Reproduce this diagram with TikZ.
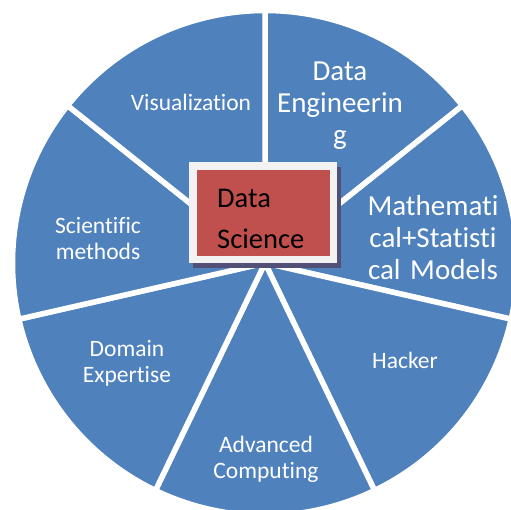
\documentclass[tikz,border=0pt]{standalone}
\usepackage{fontspec}
\setmainfont{Carlito}[Ligatures=NoCommon]

\definecolor{wedgeBlue}{RGB}{79,129,189}
\definecolor{coreRed}{RGB}{192,80,77}
\definecolor{coreFrame}{RGB}{242,242,242}
\definecolor{coreShadow}{RGB}{82,80,118}

\begin{document}
\begin{tikzpicture}[x=1pt, y=1pt,
    wedge/.style={fill=wedgeBlue, draw=white, line width=5.5pt},
    small/.style={text=white, font=\fontsize{23.5}{26}\selectfont, align=center,
    text width=160pt, inner sep=0, anchor=base},
    big/.style={small, font=\fontsize{29}{32}\selectfont}]

    \useasboundingbox (0, 0) rectangle (511, -509);
    \coordinate (O) at (265, -263);

    % Wedges
    \foreach \k in {0, ..., 6}
        \filldraw[wedge] (O) -- ++({90 - 51.4286*\k}:252.5)
        arc[start angle={90 - 51.4286*\k}, end angle={90 - 51.4286*(\k+1)},
        radius=252.5] -- cycle;

    % Labels
    \node[big] (DE) at (340, -80) {Data\\Engineerin\\g};
    \node[big] (MS) at (433, -215) {Mathemati\\cal+Statisti\\cal Models};
    \node[small] (HK) at (405, -368) {Hacker};
    \node[small] (AC) at (266, -452) {Advanced\\Computing};
    \node[small] (DX) at (127, -356) {Domain\\Expertise};
    \node[small] (SM) at (98, -233) {Scientific\\methods};
    \node[small] (VIS) at (191, -110) {Visualization};

    % Core
    \fill[coreShadow] (193, -167) rectangle (340.5, -267.5);
    \node[draw=coreFrame, fill=coreRed, line width=7.5pt, minimum width=140.5pt,
    minimum height=93.5pt, inner sep=0] (core) at (263, -212.5) {};
    \node[font=\fontsize{28.5}{41.5}\selectfont, align=left, text width=110pt,
    inner sep=0, anchor=base west] (coreText) at (217, -207) {Data\\Science};

\end{tikzpicture}
\end{document}
